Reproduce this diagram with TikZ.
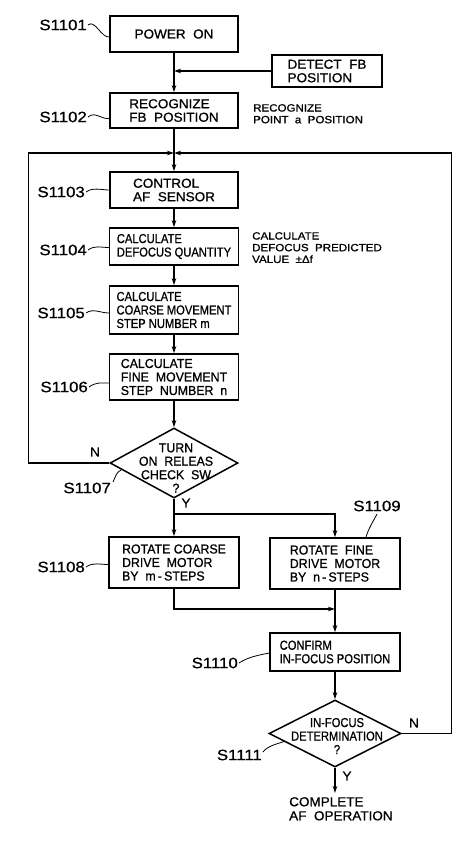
\documentclass[tikz,border=0pt]{standalone}
\usepackage{fontspec}
\setmainfont{Liberation Sans}
\newfontfamily\fA{Liberation Sans}[FakeStretch=1.04,FakeBold=0.8]
\newfontfamily\fB{Liberation Sans}[FakeStretch=0.95,FakeBold=0.8]
\newfontfamily\fC{Liberation Sans}[FakeStretch=0.86,FakeBold=0.8]
\newfontfamily\fS{Liberation Sans}[FakeStretch=1.1,FakeBold=0.8]
\newfontfamily\fL{Liberation Sans}[FakeStretch=1.12,FakeBold=0.8]
\newcommand\bsz{\fontsize{13}{13.5}\selectfont}
\usetikzlibrary{shapes.geometric,arrows.meta}
\begin{document}
\begin{tikzpicture}[x=1pt,y=-1pt,
  box/.style={draw, line width=1.5pt, inner sep=0pt, align=left},
  dia/.style={draw, diamond, line width=1.5pt, inner sep=0pt},
  txt/.style={inner sep=0pt},
  side/.style={align=left, inner sep=0pt, anchor=north west, font={\fS\fontsize{10.5}{11.7}\selectfont}},
  lab/.style={inner sep=0pt, anchor=east, font={\fL\fontsize{15}{15}\selectfont}},
  arr/.style={line width=1.2pt, -{Stealth[length=7pt,width=4.5pt]}},
  sq/.style={line width=0.8pt},
]
\fill[white] (0,0) rectangle (469,841);
\useasboundingbox (0,0) rectangle (469,841);

% boxes
\node[box, font={\fA\bsz}, minimum width=128pt, minimum height=36pt] (p1) at (174,34) {POWER\ \ ON};
\node[box, font={\fA\bsz}, minimum width=110pt, minimum height=32pt] (det) at (327,71) {DETECT\ \ FB\\POSITION};
\node[box, font={\fA\bsz}, minimum width=128pt, minimum height=35pt] (p2) at (174,110.5) {RECOGNIZE\\FB\ \ POSITION};
\node[box, font={\fA\bsz}, minimum width=128pt, minimum height=36pt] (p3) at (174,190) {CONTROL\\AF\ \ SENSOR};
\node[box, font={\fC\bsz}, minimum width=129pt, minimum height=37pt] (p4) at (174,246.5) {CALCULATE\\DEFOCUS QUANTITY};
\node[box, font={\fC\bsz}, minimum width=129pt, minimum height=48pt] (p5) at (174,310) {CALCULATE\\COARSE MOVEMENT\\STEP NUMBER m};
\node[box, font={\fB\bsz}, minimum width=129pt, minimum height=46pt] (p6) at (174,377) {CALCULATE\\FINE\ \ MOVEMENT\\STEP\ \ NUMBER\ \ n};
\node[dia, minimum width=128pt, minimum height=70pt] (d7) at (174,463) {};
\node[txt, align=center, font={\fB\bsz}] (t7) at (176,468) {TURN\\ON\ \ RELEAS\\CHECK\ \ SW\\?};
\node[box, font={\fB\bsz}, minimum width=130pt, minimum height=51pt] (p8) at (174,562.5) {ROTATE COARSE\\DRIVE\ \ MOTOR\\BY\ \ m\,-\,STEPS};
\node[box, font={\fB\bsz}, minimum width=130pt, minimum height=51pt] (p9) at (335,563.5) {ROTATE\ \ FINE\\DRIVE\ \ MOTOR\\BY\ \ n\,-\,STEPS};
\node[box, font={\fC\bsz}, minimum width=130pt, minimum height=38pt] (p10) at (335,652) {CONFIRM\\IN-FOCUS POSITION};
\node[dia, minimum width=132pt, minimum height=67pt] (d11) at (335,733.5) {};
\node[txt, align=center, font={\fC\bsz}] (t11) at (337,736) {IN-FOCUS\\DETERMINATION\\?};
\node[txt, align=left, anchor=north west, font={\fA\fontsize{13}{14}\selectfont}] (end) at (289,797) {COMPLETE\\AF\ \ OPERATION};

% side notes
\node[side] (s2) at (253,104) {RECOGNIZE\\POINT\ \ a\ \ POSITION};
\node[side] (s4) at (252,232) {CALCULATE\\DEFOCUS\ \ PREDICTED\\VALUE\ \ ±Δf};

% branch letters
\node[txt, font={\fA\bsz}] (n7) at (95,452) {N};
\node[txt, font={\fA\bsz}] (y7) at (186,503) {Y};
\node[txt, font={\fA\bsz}] (n11) at (414,723) {N};
\node[txt, font={\fA\bsz}] (y11) at (347,776) {Y};

% step labels
\node[lab] (l1) at (87,25) {S1101};
\node[lab] (l2) at (87,117) {S1102};
\node[lab] (l3) at (85,192) {S1103};
\node[lab] (l4) at (87,250) {S1104};
\node[lab] (l5) at (85,313) {S1105};
\node[lab] (l6) at (88,387) {S1106};
\node[lab] (l7) at (111,488) {S1107};
\node[lab] (l8) at (85,567) {S1108};
\node[lab, anchor=center] (l9) at (377,506) {S1109};
\node[lab] (l10) at (238,663) {S1110};
\node[lab] (l11) at (262,755) {S1111};

% squiggles
\draw[sq] ([xshift=1pt]l1.east) .. controls +(7,-6) and +(-8,1) .. ([yshift=-3pt]p1.west);
\draw[sq] ([xshift=1pt]l2.east) .. controls +(7,-6) and +(-8,1) .. ([yshift=-8pt]p2.west);
\draw[sq] ([xshift=1pt]l3.east) .. controls +(7,-5) and +(-8,0) .. (p3.west);
\draw[sq] ([xshift=1pt]l4.east) .. controls +(7,-5) and +(-8,0) .. ([yshift=-1pt]p4.west);
\draw[sq] ([xshift=1pt]l5.east) .. controls +(7,-5) and +(-8,0) .. ([yshift=-3pt]p5.west);
\draw[sq] ([xshift=1pt]l6.east) .. controls +(7,-5) and +(-8,0) .. ([yshift=-6pt]p6.west);
\draw[sq] ([xshift=2pt,yshift=6pt]l7.east) .. controls +(3,-6) and +(-5,2) .. ([xshift=12pt,yshift=-7pt]d7.west);
\draw[sq] ([xshift=1pt]l8.east) .. controls +(7,-5) and +(-8,0) .. ([yshift=-2pt]p8.west);
\draw[sq] ([yshift=-8pt]l9.center) .. controls +(-3,6) and +(2,-8) .. ([xshift=31pt]p9.north);
\draw[sq] ([xshift=1pt]l10.east) .. controls +(9,-6) and +(-10,2) .. ([yshift=-1pt]p10.west);
\draw[sq] ([xshift=1pt,yshift=3pt]l11.east) .. controls +(4,-6) and +(-6,2) .. ([xshift=16pt,yshift=-8pt]d11.west);

% connectors
\coordinate (jn) at (174,153);
\coordinate (jy) at (174,514);
\coordinate (jm) at (335,609);
\draw[arr] (p1.south) -- (p2.north);
\draw[arr] (det.west) -- (det.west -| p1.south);
\draw[arr] (p2.south) -- (p3.north);
\draw[arr] (p3.south) -- (p4.north);
\draw[arr] (p4.south) -- (p5.north);
\draw[arr] (p5.south) -- (p6.north);
\draw[arr] (p6.south) -- (d7.north);
\draw[arr] (d7.west) -- ++(-81,0) |- (jn);
\draw[arr] (d11.east) -- ++(50,0) |- (jn);
\draw[arr] (d7.south) -- (p8.north);
\draw[arr] (jy) -| (p9.north);
\draw[arr] (p8.south) |- (jm);
\draw[arr] (p9.south) -- (p10.north);
\draw[arr] (p10.south) -- (d11.north);
\draw[arr, shorten >=4pt] (d11.south) -- (d11.south |- end.north);
\end{tikzpicture}
\end{document}
